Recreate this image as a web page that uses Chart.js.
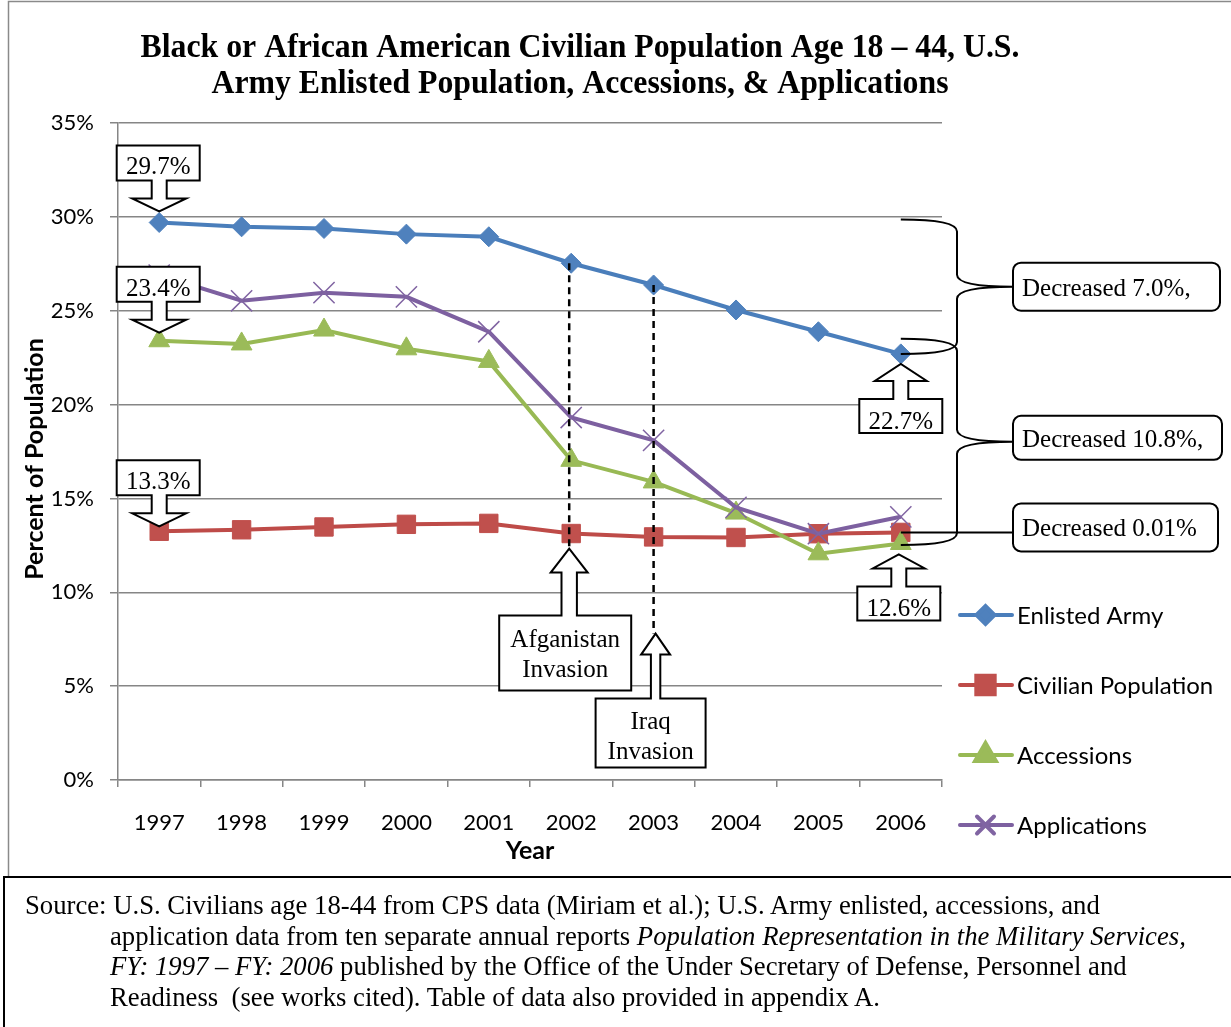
<!DOCTYPE html>
<html>
<head>
<meta charset="utf-8">
<script src="https://cdn.jsdelivr.net/npm/chart.js@4.4.1/dist/chart.umd.min.js"></script>
<style>
  html, body { margin: 0; padding: 0; background: #fff; }
  #wrap { position: absolute; left: 0; top: 0; width: 1231px; height: 877px; }
  #source {
    position: absolute; left: 3px; top: 876px; width: 1240px; height: 160px;
    border: 2px solid #000; box-sizing: border-box;
    font-family: 'Liberation Serif', 'Times New Roman', serif; font-size: 26.7px;
    line-height: 30.6px; padding: 12px 0 0 105px; color: #000;
  }
  #source div { white-space: nowrap; }
  #source .first { margin-left: -85px; }
</style>
</head>
<body>
<div id="wrap"><canvas id="chart" width="1231" height="877"></canvas></div>
<div id="source">
  <div class="first">Source: U.S. Civilians age 18-44 from CPS data (Miriam et al.); U.S. Army enlisted, accessions, and</div>
  <div>application data from ten separate annual reports <i>Population Representation in the Military Services,</i></div>
  <div><i>FY: 1997 – FY: 2006</i> published by the Office of the Under Secretary of Defense, Personnel and</div>
  <div>Readiness&nbsp; (see works cited). Table of data also provided in appendix A.</div>
</div>
<script>
const years = ['1997', '1998', '1999', '2000', '2001', '2002', '2003', '2004', '2005', '2006'];
const enlistedArmy = [29.7, 29.47, 29.38, 29.08, 28.94, 27.53, 26.37, 25.04, 23.88, 22.7];
const civilianPopulation = [13.25, 13.33, 13.48, 13.62, 13.67, 13.13, 12.95, 12.92, 13.12, 13.19];
const accessions = [23.4, 23.23, 23.97, 22.97, 22.3, 17.03, 15.88, 14.22, 12.05, 12.6];
const applications = [26.9, 25.53, 25.96, 25.74, 23.88, 19.31, 18.09, 14.52, 13.12, 14.02];

const titleLines = ['Black or African American Civilian Population Age 18 \u2013 44, U.S.',
  'Army Enlisted Population, Accessions, & Applications'];
const startLabels = ['29.7%', '23.4%', '13.3%'];
const endLabels = ['22.7%', '12.6%'];
const changeLabels = ['Decreased 7.0%,', 'Decreased 10.8%,', 'Decreased 0.01%'];
const eventLabels = [['Afganistan', 'Invasion'], ['Iraq', 'Invasion']];
const eventYears = ['2002', '2003'];
const iraqArrowValue = 7.8; // where the Iraq arrow tip sits, in % units

const SERIF = '"Liberation Serif", "Times New Roman", serif';
const SANS = 'Lato, "Open Sans", sans-serif';

function callout(ctx, o) {
  const s = o.dir; // 1: arrow points down, -1: arrow points up
  const headBase = o.tipY - s * o.headLen;
  const boxNear = headBase - s * o.stemLen;
  const boxFar = boxNear - s * o.boxH;
  const bl = o.x + (o.boxDx || 0) - o.boxW / 2;
  const br = bl + o.boxW;
  ctx.beginPath();
  ctx.moveTo(bl, boxFar);
  ctx.lineTo(br, boxFar);
  ctx.lineTo(br, boxNear);
  ctx.lineTo(o.x + o.stemHalf, boxNear);
  ctx.lineTo(o.x + o.stemHalf, headBase);
  ctx.lineTo(o.x + o.headHalf, headBase);
  ctx.lineTo(o.x, o.tipY);
  ctx.lineTo(o.x - o.headHalf, headBase);
  ctx.lineTo(o.x - o.stemHalf, headBase);
  ctx.lineTo(o.x - o.stemHalf, boxNear);
  ctx.lineTo(bl, boxNear);
  ctx.closePath();
  ctx.fillStyle = '#fff';
  ctx.fill();
  ctx.lineWidth = 2;
  ctx.strokeStyle = '#000';
  ctx.lineJoin = 'miter';
  ctx.stroke();
  const top = Math.min(boxNear, boxFar);
  ctx.fillStyle = '#000';
  ctx.font = '25px ' + SERIF;
  ctx.textAlign = 'center';
  ctx.textBaseline = 'alphabetic';
  o.lines.forEach((t, k) => ctx.fillText(t, (bl + br) / 2, top + o.first + k * 30));
}

function brace(ctx, x0, yTop, yBot, xMid, xTip, r) {
  const yc = (yTop + yBot) / 2;
  ctx.beginPath();
  ctx.moveTo(x0, yTop);
  ctx.quadraticCurveTo(xMid, yTop, xMid, yTop + r);
  ctx.lineTo(xMid, yc - r);
  ctx.quadraticCurveTo(xMid, yc, xTip, yc);
  ctx.moveTo(xTip, yc);
  ctx.quadraticCurveTo(xMid, yc, xMid, yc + r);
  ctx.lineTo(xMid, yBot - r);
  ctx.quadraticCurveTo(xMid, yBot, x0, yBot);
  ctx.stroke();
  return yc;
}

function roundBox(ctx, x, y, w, h, r, text) {
  ctx.beginPath();
  ctx.roundRect(x, y, w, h, r);
  ctx.fillStyle = '#fff';
  ctx.fill();
  ctx.lineWidth = 2;
  ctx.strokeStyle = '#000';
  ctx.stroke();
  ctx.fillStyle = '#000';
  ctx.font = '25px ' + SERIF;
  ctx.textAlign = 'left';
  ctx.textBaseline = 'alphabetic';
  ctx.fillText(text, x + 9, y + h / 2 + 9);
}

const annotations = {
  id: 'annotations',
  afterDatasetsDraw(chart) {
    const { ctx, scales: { x, y } } = chart;
    const px = i => x.getPixelForValue(i);
    const py = v => y.getPixelForValue(v);
    const last = years.length - 1;
    ctx.save();

    // event markers (dashed drop lines + arrows)
    const i02 = years.indexOf(eventYears[0]);
    const i03 = years.indexOf(eventYears[1]);
    const afgTip = py(civilianPopulation[i02]) + 15;
    const iraqTip = py(iraqArrowValue);
    ctx.setLineDash([7, 5]);
    ctx.lineWidth = 2.5;
    ctx.strokeStyle = '#000';
    ctx.beginPath();
    ctx.moveTo(px(i02) - 2, py(enlistedArmy[i02]));
    ctx.lineTo(px(i02) - 2, afgTip);
    ctx.moveTo(px(i03), py(enlistedArmy[i03]));
    ctx.lineTo(px(i03), iraqTip);
    ctx.stroke();
    ctx.setLineDash([]);

    callout(ctx, { x: px(i02) - 2, tipY: afgTip, dir: -1, headLen: 24, headHalf: 18.5, stemHalf: 7.7,
      stemLen: 43, boxW: 132, boxH: 75, boxDx: -4, lines: eventLabels[0], first: 31 });
    callout(ctx, { x: px(i03) + 2, tipY: iraqTip, dir: -1, headLen: 21, headHalf: 14.5, stemHalf: 4.7,
      stemLen: 44, boxW: 110, boxH: 69, boxDx: -5, lines: eventLabels[1], first: 30 });

    // start-value callouts (arrow down onto 1997 points)
    const common = { headLen: 13, headHalf: 27, stemHalf: 7.5, stemLen: 18, boxW: 83, boxH: 35, first: 29 };
    callout(ctx, Object.assign({}, common, { x: px(0), tipY: py(enlistedArmy[0]) - 11, dir: 1, boxDx: -1, lines: [startLabels[0]] }));
    callout(ctx, Object.assign({}, common, { x: px(0), tipY: py(accessions[0]) - 8, dir: 1, boxDx: -1, lines: [startLabels[1]] }));
    callout(ctx, Object.assign({}, common, { x: px(0), tipY: py(civilianPopulation[0]) - 5, dir: 1, boxDx: -1, lines: [startLabels[2]] }));

    // end-value callouts (arrow up onto 2006 points)
    callout(ctx, Object.assign({}, common, { x: px(last), tipY: py(enlistedArmy[last]) + 10, dir: -1, headLen: 17, headHalf: 26,
      boxH: 34, lines: [endLabels[0]], first: 30 }));
    callout(ctx, Object.assign({}, common, { x: px(last) - 2, tipY: py(accessions[last]) + 11, dir: -1, headLen: 14, headHalf: 26,
      boxH: 34, lines: [endLabels[1]], first: 30 }));

    // braces and change boxes
    ctx.lineWidth = 2;
    ctx.strokeStyle = '#000';
    const xMid = 957, xTip = 1013;
    const midA = brace(ctx, px(last), py(enlistedArmy[0]) - 3, py(enlistedArmy[last]), xMid, xTip, 12);
    const midB = brace(ctx, px(last), py(accessions[0]) - 2, py(accessions[last]) + 1.5, xMid, xTip, 12);
    const yC = py(civilianPopulation[last]);
    ctx.beginPath();
    ctx.moveTo(px(last), yC);
    ctx.lineTo(xTip, yC);
    ctx.stroke();
    roundBox(ctx, 1013, midA - 24, 207, 48, 8, changeLabels[0]);
    roundBox(ctx, 1013, midB - 26, 209, 44, 8, changeLabels[1]);
    roundBox(ctx, 1013, yC - 29, 205, 48, 8, changeLabels[2]);
    ctx.restore();
  },
  afterDraw(chart) {
    const { ctx } = chart;
    ctx.save();
    // outer frame
    ctx.strokeStyle = '#8a8a8a';
    ctx.lineWidth = 1.5;
    ctx.strokeRect(8.5, 1.5, 1240, 876);

    // title
    ctx.fillStyle = '#000';
    ctx.textAlign = 'center';
    ctx.textBaseline = 'alphabetic';
    ctx.font = 'bold 34px ' + SERIF;
    ctx.fillText(titleLines[0], 580, 57, 879);
    ctx.fillText(titleLines[1], 580, 93, 737);

    // y axis title
    ctx.save();
    ctx.translate(35, 459);
    ctx.rotate(-Math.PI / 2);
    ctx.font = 'bold 25px ' + SANS;
    ctx.textBaseline = 'middle';
    ctx.fillText('Percent of Population', 0, 0);
    ctx.restore();

    // legend
    chart.data.datasets.forEach((ds, i) => {
      const ly = 615 + 70 * i;
      ctx.strokeStyle = ds.borderColor;
      ctx.lineWidth = 4;
      ctx.lineCap = 'round';
      ctx.beginPath();
      ctx.moveTo(960, ly);
      ctx.lineTo(1012, ly);
      ctx.stroke();
      ctx.fillStyle = ds.pointBackgroundColor;
      ctx.strokeStyle = ds.pointBorderColor;
      Chart.helpers.drawPoint(ctx, { pointStyle: ds.pointStyle, radius: ds.legendRadius, borderWidth: ds.pointBorderWidth, rotation: 0 }, 985.5, ly);
      ctx.fillStyle = '#000';
      ctx.font = '24px ' + SANS;
      ctx.textAlign = 'left';
      ctx.textBaseline = 'middle';
      ctx.fillText(ds.label, 1017, ly + 1);
    });
    ctx.restore();
  }
};

new Chart(document.getElementById('chart'), {
  type: 'line',
  data: {
    labels: years,
    datasets: [
      { label: 'Enlisted Army', data: enlistedArmy, borderColor: '#4A7EBB', backgroundColor: '#4F81BD',
        pointBackgroundColor: '#4F81BD', pointBorderColor: '#4F81BD', pointStyle: 'rectRot',
        pointRadius: 10, legendRadius: 9, pointBorderWidth: 1, borderWidth: 4, order: 4 },
      { label: 'Civilian Population', data: civilianPopulation, borderColor: '#BE4B48', backgroundColor: '#C0504D',
        pointBackgroundColor: '#C0504D', pointBorderColor: '#C0504D', pointStyle: 'rect',
        pointRadius: 13, legendRadius: 13, pointBorderWidth: 1, borderWidth: 4, order: 3 },
      { label: 'Accessions', data: accessions, borderColor: '#98B954', backgroundColor: '#9BBB59',
        pointBackgroundColor: '#9BBB59', pointBorderColor: '#9BBB59', pointStyle: 'triangle',
        pointRadius: 12, legendRadius: 12, pointBorderWidth: 1, borderWidth: 4, order: 2 },
      { label: 'Applications', data: applications, borderColor: '#7D60A0', backgroundColor: '#8064A2',
        pointBackgroundColor: '#8064A2', pointBorderColor: '#8064A2', pointStyle: 'crossRot',
        pointRadius: 15, legendRadius: 12, pointBorderWidth: 1.5, borderWidth: 4, order: 1 }
    ]
  },
  options: {
    responsive: false,
    animation: false,
    devicePixelRatio: 1,
    layout: { padding: { top: 123, right: 289, left: 0, bottom: 0 } },
    plugins: { legend: { display: false }, title: { display: false }, tooltip: { enabled: false } },
    scales: {
      x: {
        offset: true,
        grid: { offset: true, drawOnChartArea: false, drawTicks: true, tickLength: 7, color: '#868686', lineWidth: 1.5 },
        border: { color: '#868686', width: 1.5 },
        ticks: { color: '#000', font: { family: SANS, size: 22 }, padding: 23 },
        title: { display: true, text: 'Year', color: '#000', font: { family: SANS, size: 25, weight: 'bold' },
          padding: { top: 4, bottom: 11 } },
        afterFit: s => { s.height = 97; }
      },
      y: {
        min: 0, max: 35,
        grid: { color: '#868686', lineWidth: 1.5, tickLength: 8 },
        border: { color: '#868686', width: 1.5 },
        ticks: { stepSize: 5, color: '#000', font: { family: SANS, size: 22 }, padding: 16,
          callback: v => v + '%' },
        afterFit: s => { s.width = 118; }
      }
    }
  },
  plugins: [annotations]
});
</script>
</body>
</html>
